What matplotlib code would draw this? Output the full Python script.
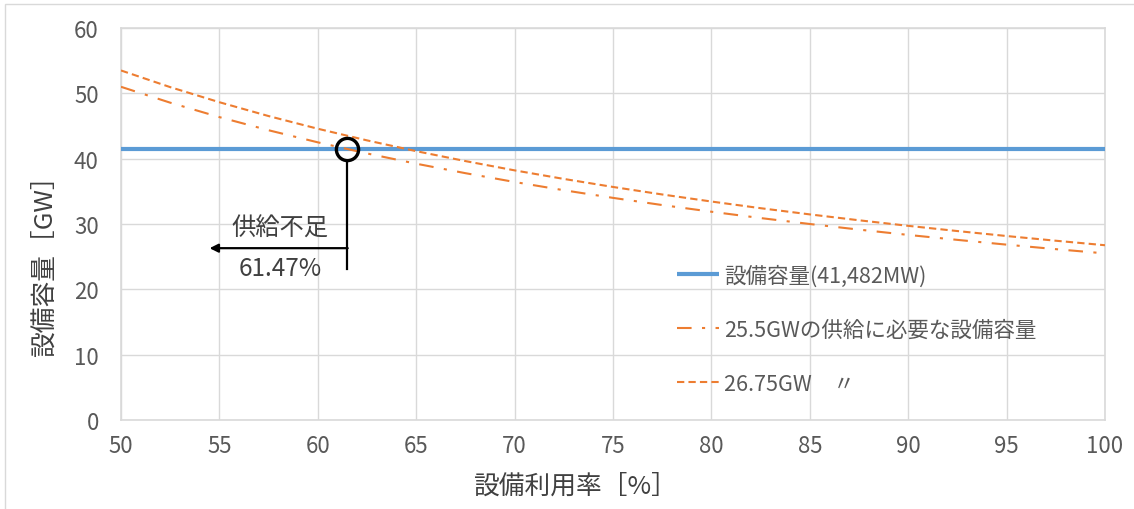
import matplotlib.pyplot as plt
from matplotlib.patches import Rectangle

# ============================================================
# Data
# ============================================================

utilization_pct = [50, 52.5, 55, 57.5, 60, 62.5, 65, 67.5, 70, 72.5, 75,
                   77.5, 80, 82.5, 85, 87.5, 90, 92.5, 95, 97.5, 100]

installed_capacity_gw = 41.482

required_25_5_gw = [51.0, 48.57, 46.36, 44.35, 42.5, 40.8, 39.23, 37.78,
                    36.43, 35.17, 34.0, 32.9, 31.88, 30.91, 30.0, 29.14,
                    28.33, 27.57, 26.84, 26.15, 25.5]

required_26_75_gw = [53.5, 50.95, 48.64, 46.52, 44.58, 42.8, 41.15, 39.63,
                     38.21, 36.9, 35.67, 34.52, 33.44, 32.42, 31.47, 30.57,
                     29.72, 28.92, 28.16, 27.44, 26.75]

legend_labels = ["設備容量(41,482MW)",
                 "25.5GWの供給に必要な設備容量",
                 "26.75GW\u3000〃"]

shortage_rate_pct = 61.47

x_ticks = [50, 55, 60, 65, 70, 75, 80, 85, 90, 95, 100]
y_ticks = [0, 10, 20, 30, 40, 50, 60]

# ============================================================
# Style
# ============================================================

plt.rcParams['font.family'] = ['Noto Sans CJK JP', 'DejaVu Sans']

BLUE = "#5B9BD5"
ORANGE = "#ED7D31"
GRID = "#D9D9D9"
TEXT = "#595959"

fig = plt.figure(figsize=(11.34, 5.10), dpi=100)
ax = fig.add_axes([121 / 1134, 1 - 421 / 510, 984 / 1134, 392 / 510])

# light frame around the whole chart area
fig.patches.append(Rectangle((5 / 1134, -0.1), 1.2, 1.1 - 5 / 510,
                             transform=fig.transFigure, fill=False,
                             edgecolor="#D9D9D9", linewidth=1.0))

# ============================================================
# Series
# ============================================================

ax.plot([utilization_pct[0], utilization_pct[-1]],
        [installed_capacity_gw, installed_capacity_gw],
        color=BLUE, linewidth=3.0, solid_capstyle="butt",
        label=legend_labels[0], zorder=3)
ax.plot(utilization_pct, required_25_5_gw, color=ORANGE, linewidth=1.5,
        linestyle=(0, (7, 5, 1.5, 5)), label=legend_labels[1], zorder=3)
ax.plot(utilization_pct, required_26_75_gw, color=ORANGE, linewidth=1.5,
        linestyle=(0, (3.5, 2)), label=legend_labels[2], zorder=3)

# ============================================================
# Annotation: shortage point
# ============================================================

ax.plot([shortage_rate_pct], [installed_capacity_gw], marker="o",
        markersize=16, markerfacecolor="none", markeredgecolor="black",
        markeredgewidth=2.4, zorder=5)
ax.plot([shortage_rate_pct, shortage_rate_pct], [39.7, 23.1],
        color="black", linewidth=1.6, zorder=5)
ax.annotate("", xy=(54.5, 26.3), xytext=(shortage_rate_pct + 0.05, 26.3),
            arrowprops=dict(arrowstyle="-|>,head_length=0.5,head_width=0.25",
                            color="black", linewidth=1.6,
                            shrinkA=0, shrinkB=0),
            zorder=5)
ax.text(58.1, 29.4, "供給不足", ha="center", va="center",
        fontsize=17.5, color="#404040")
ax.text(58.1, 23.3, f"{shortage_rate_pct:.2f}%", ha="center", va="center",
        fontsize=17.5, color="#404040")

# ============================================================
# Axes
# ============================================================

ax.set_xlim(50, 100)
ax.set_ylim(0, 60)
ax.set_xticks(x_ticks)
ax.set_yticks(y_ticks)
ax.grid(True, color=GRID, linewidth=1.0)
ax.set_axisbelow(True)
for side in ["top", "right", "left", "bottom"]:
    ax.spines[side].set_color(GRID)
    ax.spines[side].set_linewidth(1.2)
ax.tick_params(length=0, labelsize=16, labelcolor=TEXT)
ax.tick_params(axis="x", pad=10)
ax.tick_params(axis="y", pad=16)

ax.set_xlabel("設備利用率［%］", fontsize=18.5, color="#404040")
ax.set_ylabel("設備容量［GW］", fontsize=18.5, color="#404040")
ax.xaxis.set_label_coords((575 - 121) / 984, (421 - 487) / 392)
ax.yaxis.set_label_coords((45 - 121) / 984, (421 - 260) / 392)
ax.xaxis.label.set_verticalalignment("center")
ax.yaxis.label.set_verticalalignment("center")

leg = ax.legend(loc="upper left", bbox_to_anchor=(556 / 984, 1 - 236 / 392),
                frameon=False, fontsize=15.5, handlelength=1.95,
                handletextpad=0.25, labelspacing=1.5, borderaxespad=0,
                borderpad=0)
for txt in leg.get_texts():
    txt.set_color(TEXT)

fig.savefig("out.png", dpi=100)
